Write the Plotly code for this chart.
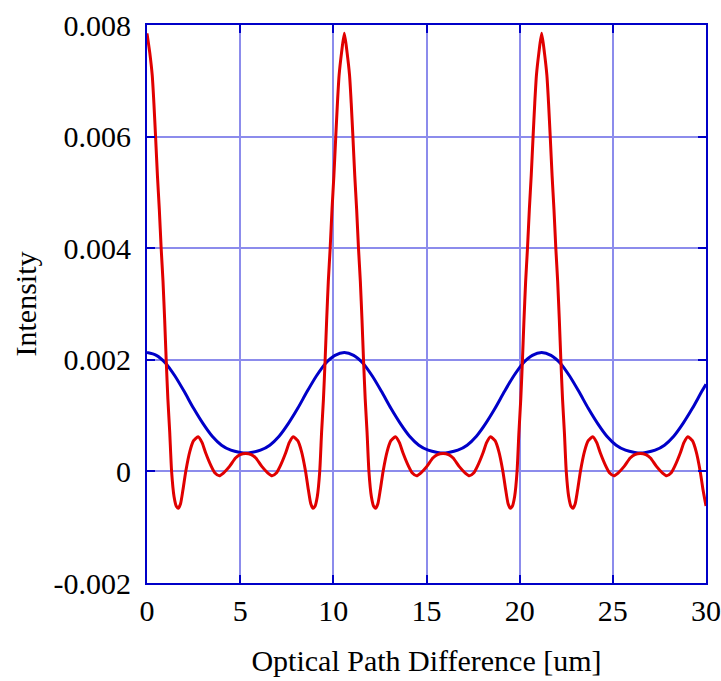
import plotly.graph_objects as go

# Red curve
red_x = [
    0.00, 0.15, 0.28, 0.37, 0.46, 0.56, 0.66, 0.76, 0.86, 0.95, 1.03, 1.12, 1.22, 1.32, 1.45, 1.58, 1.68, 1.80, 1.93, 2.08,
    2.30, 2.50, 2.74, 2.95, 3.15, 3.45, 3.65, 3.88, 4.10, 4.43, 4.75, 5.00, 5.30,
    5.59, 5.84, 6.16, 6.49, 6.71, 6.94, 7.14, 7.44, 7.64, 7.85, 8.09, 8.29, 8.51, 8.66, 8.79, 8.91, 9.01, 9.14, 9.27,
    9.37, 9.47, 9.56, 9.64, 9.73, 9.83, 9.93, 10.03, 10.13, 10.22, 10.31, 10.44, 10.59,
    10.74, 10.87, 10.96, 11.05, 11.15, 11.25, 11.35, 11.45, 11.54, 11.62, 11.71, 11.81, 11.91, 12.04, 12.17, 12.27,
    12.39, 12.52, 12.67, 12.89, 13.09, 13.33, 13.54, 13.74, 14.04, 14.24, 14.47, 14.69, 15.02, 15.34, 15.59, 15.89,
    16.18, 16.43, 16.75, 17.08, 17.30, 17.53, 17.73, 18.03, 18.23, 18.44, 18.68, 18.88, 19.10, 19.25, 19.38, 19.50,
    19.60, 19.73, 19.86, 19.96, 20.06, 20.15, 20.23, 20.32, 20.42, 20.52, 20.62, 20.72, 20.81, 20.90, 21.03, 21.18,
    21.33, 21.46, 21.55, 21.64, 21.74, 21.84, 21.94, 22.04, 22.13, 22.21, 22.30, 22.40, 22.50, 22.63, 22.76, 22.86,
    22.98, 23.11, 23.26, 23.48, 23.68, 23.92, 24.13, 24.33, 24.63, 24.83, 25.06, 25.28, 25.61, 25.93, 26.18, 26.48,
    26.77, 27.02, 27.34, 27.67, 27.89, 28.12, 28.32, 28.62, 28.82, 29.03, 29.27, 29.47, 29.69, 29.84, 30.00,
]
red_y = [
    0.00785, 0.0075, 0.0071, 0.0066, 0.0060, 0.0053, 0.0047, 0.0040, 0.0034, 0.0027, 0.0020, 0.0013, 0.0007, 0.0,
    -0.00045, -0.00063, -0.00066, -0.00058, -0.00033, 0.0,
    0.00036, 0.00055, 0.00062, 0.00052, 0.00033, 0.00009, -0.00003, -0.00008, -0.00003, 0.00009, 0.00024, 0.00030, 0.00032,
    0.00030, 0.00024, 0.00009, -0.00003, -0.00008, -0.00003, 0.00009, 0.00033, 0.00052, 0.00062, 0.00055, 0.00036, 0.0,
    -0.00033, -0.00058, -0.00066, -0.00063, -0.00045, 0.0,
    0.0007, 0.0013, 0.0020, 0.0027, 0.0034, 0.0040, 0.0047, 0.0053, 0.0060, 0.0066, 0.0071, 0.0075, 0.00785,
    0.0075, 0.0071, 0.0066, 0.0060, 0.0053, 0.0047, 0.0040, 0.0034, 0.0027, 0.0020, 0.0013, 0.0007, 0.0,
    -0.00045, -0.00063, -0.00066,
    -0.00058, -0.00033, 0.0, 0.00036, 0.00055, 0.00062, 0.00052, 0.00033, 0.00009, -0.00003, -0.00008, -0.00003,
    0.00009, 0.00024, 0.00030, 0.00032,
    0.00030, 0.00024, 0.00009, -0.00003, -0.00008, -0.00003, 0.00009, 0.00033, 0.00052, 0.00062, 0.00055, 0.00036,
    0.0, -0.00033, -0.00058, -0.00066,
    -0.00063, -0.00045, 0.0, 0.0007, 0.0013, 0.0020, 0.0027, 0.0034, 0.0040, 0.0047, 0.0053, 0.0060, 0.0066, 0.0071,
    0.0075, 0.00785,
    0.0075, 0.0071, 0.0066, 0.0060, 0.0053, 0.0047, 0.0040, 0.0034, 0.0027, 0.0020, 0.0013, 0.0007, 0.0,
    -0.00045, -0.00063, -0.00066,
    -0.00058, -0.00033, 0.0, 0.00036, 0.00055, 0.00062, 0.00052, 0.00033, 0.00009, -0.00003, -0.00008, -0.00003,
    0.00009, 0.00024, 0.00030, 0.00032,
    0.00030, 0.00024, 0.00009, -0.00003, -0.00008, -0.00003, 0.00009, 0.00033, 0.00052, 0.00062, 0.00055, 0.00036,
    0.0, -0.00033, -0.00062,
]

# Blue curve
blue_x = [
    0.00, 0.50, 1.00, 1.50, 2.00, 2.50, 3.00, 3.50, 4.00, 4.50, 5.00, 5.30,
    5.59, 6.09, 6.59, 7.09, 7.59, 8.09, 8.59, 9.09, 9.59, 10.09, 10.59,
    11.09, 11.59, 12.09, 12.59, 13.09, 13.59, 14.09, 14.59, 15.09, 15.59, 15.89,
    16.18, 16.68, 17.18, 17.68, 18.18, 18.68, 19.18, 19.68, 20.18, 20.68, 21.18,
    21.68, 22.18, 22.68, 23.18, 23.68, 24.18, 24.68, 25.18, 25.68, 26.18, 26.48,
    26.77, 27.27, 27.77, 28.27, 28.77, 29.27, 29.77, 30.00,
]
blue_y = [
    0.00213, 0.00208, 0.00194, 0.00171, 0.00143, 0.00113, 0.00086, 0.00063, 0.00047, 0.00038, 0.00034, 0.00033,
    0.00034, 0.00038, 0.00047, 0.00063, 0.00086, 0.00113, 0.00143, 0.00171, 0.00194, 0.00208, 0.00213,
    0.00208, 0.00194, 0.00171, 0.00143, 0.00113, 0.00086, 0.00063, 0.00047, 0.00038, 0.00034, 0.00033,
    0.00034, 0.00038, 0.00047, 0.00063, 0.00086, 0.00113, 0.00143, 0.00171, 0.00194, 0.00208, 0.00213,
    0.00208, 0.00194, 0.00171, 0.00143, 0.00113, 0.00086, 0.00063, 0.00047, 0.00038, 0.00034, 0.00033,
    0.00034, 0.00038, 0.00047, 0.00063, 0.00086, 0.00113, 0.00143, 0.00156,
]

x_ticks = [0, 5, 10, 15, 20, 25, 30]
x_ticktext = ["0", "5", "10", "15", "20", "25", "30"]
y_ticks = [-0.002, 0, 0.002, 0.004, 0.006, 0.008]
y_ticktext = ["-0.002", "0", "0.002", "0.004", "0.006", "0.008"]

FONT = "Liberation Serif, Times New Roman, serif"
AXIS = "#0000c8"
GRID = "#8c8cec"

fig = go.Figure()
fig.add_trace(go.Scatter(x=blue_x, y=blue_y, mode="lines",
                         line=dict(color="#0000c8", width=3, shape="spline", smoothing=0.8),
                         showlegend=False, hoverinfo="skip"))
fig.add_trace(go.Scatter(x=red_x, y=red_y, mode="lines",
                         line=dict(color="#e00000", width=3, shape="spline", smoothing=0.6),
                         showlegend=False, hoverinfo="skip"))

fig.update_layout(
    width=721, height=681,
    margin=dict(l=147, r=15, t=25, b=98, autoexpand=False),
    paper_bgcolor="white", plot_bgcolor="white",
    font=dict(family=FONT, size=30, color="black"),
    showlegend=False,
)
fig.update_xaxes(
    range=[0, 30], tickvals=x_ticks, ticktext=x_ticktext,
    showline=True, linecolor=AXIS, linewidth=2, mirror="ticks",
    ticks="inside", ticklen=8, tickwidth=2, tickcolor=AXIS,
    showgrid=True, gridcolor=GRID, gridwidth=2, zeroline=False,
    tickfont=dict(family=FONT, size=30, color="black"),
    ticklabelstandoff=0, automargin=False,
    title=dict(text="Optical Path Difference [um]", font=dict(family=FONT, size=30), standoff=24),
)
fig.update_yaxes(
    range=[-0.002, 0.008], tickvals=y_ticks, ticktext=y_ticktext,
    showline=True, linecolor=AXIS, linewidth=2, mirror="ticks",
    ticks="inside", ticklen=8, tickwidth=2, tickcolor=AXIS,
    showgrid=True, gridcolor=GRID, gridwidth=2, zeroline=False,
    tickfont=dict(family=FONT, size=30, color="black"),
    ticklabelstandoff=8, automargin=False,
    title=dict(text="Intensity", font=dict(family=FONT, size=30), standoff=8),
)

fig.write_html("out.html")
